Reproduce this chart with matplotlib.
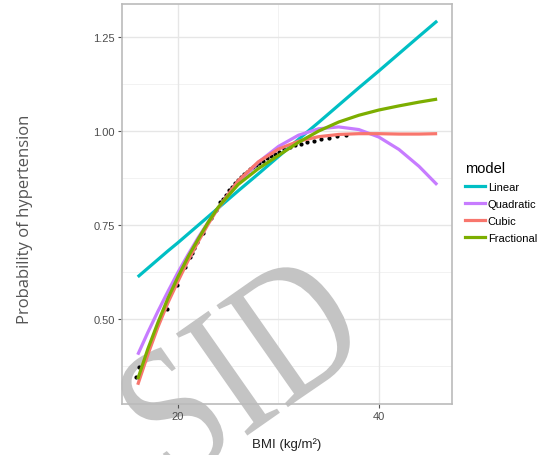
import matplotlib.pyplot as plt
from matplotlib.lines import Line2D
from matplotlib.textpath import TextPath
from matplotlib.patches import PathPatch
from matplotlib.font_manager import FontProperties
from matplotlib.transforms import Affine2D

# BMI grid the fitted curves were read at
bmi = [16, 17, 18, 19, 20, 21, 22, 23, 24, 26, 28, 30, 32, 34, 36, 38, 40, 42, 44, 45.8]

linear = [0.612, 0.635, 0.658, 0.681, 0.703, 0.726, 0.749, 0.772, 0.795, 0.841,
          0.886, 0.932, 0.978, 1.023, 1.069, 1.115, 1.160, 1.206, 1.252, 1.293]
quadratic = [0.405, 0.464, 0.520, 0.573, 0.624, 0.671, 0.716, 0.757, 0.795, 0.862,
             0.917, 0.959, 0.989, 1.006, 1.011, 1.004, 0.984, 0.951, 0.906, 0.857]
cubic = [0.325, 0.405, 0.478, 0.543, 0.600, 0.655, 0.705, 0.752, 0.795, 0.868,
         0.918, 0.952, 0.973, 0.985, 0.991, 0.993, 0.993, 0.992, 0.992, 0.993]
fractional = [0.340, 0.420, 0.490, 0.555, 0.612, 0.665, 0.712, 0.757, 0.797, 0.858,
              0.900, 0.935, 0.970, 1.000, 1.024, 1.042, 1.056, 1.067, 1.077, 1.085]

# observed points
obs_x = [15.8, 16.1, 18.9, 19.9, 20.7, 21.2, 21.4, 21.6, 21.9, 22.5, 23.3, 23.8, 24.2,
         24.5, 24.8, 25.1, 25.4, 25.7, 26.0, 26.3, 26.6, 26.9, 27.2, 27.5, 27.8, 28.1,
         28.5, 28.9, 29.3, 29.7, 30.1, 30.6, 31.2, 31.7, 32.2, 32.8, 33.5, 34.2, 35.0,
         35.8, 36.7]
obs_y = [0.345, 0.372, 0.527, 0.590, 0.638, 0.665, 0.675, 0.688, 0.705, 0.730, 0.770,
         0.790, 0.810, 0.820, 0.830, 0.842, 0.852, 0.862, 0.870, 0.878, 0.885, 0.892,
         0.898, 0.905, 0.910, 0.915, 0.921, 0.928, 0.934, 0.940, 0.945, 0.952, 0.958,
         0.962, 0.966, 0.970, 0.974, 0.978, 0.982, 0.986, 0.990]

models = ["Linear", "Quadratic", "Cubic", "Fractional"]
colors = ["#00BFC4", "#C77CFF", "#F8766D", "#7CAE00"]

x_major = [20, 40]
x_minor = [30]
y_major = [0.50, 0.75, 1.00, 1.25]
y_minor = [0.375, 0.625, 0.875, 1.125]

plt.rcParams['font.family'] = ['Liberation Sans', 'DejaVu Sans']

fig = plt.figure(figsize=(5.47, 4.56), dpi=100)
ax = fig.add_axes([0.223, 0.112, 0.603, 0.877])

# grid drawn by hand so the tick labels can sit above the watermark
for v in x_minor:
    ax.axvline(v, color="#f2f2f2", lw=0.7, zorder=0.4)
for v in y_minor:
    ax.axhline(v, color="#f2f2f2", lw=0.7, zorder=0.4)
for v in x_major:
    ax.axvline(v, color="#e6e6e6", lw=1.0, zorder=0.5)
for v in y_major:
    ax.axhline(v, color="#e6e6e6", lw=1.0, zorder=0.5)

ax.scatter(obs_x, obs_y, s=4, color="black", zorder=2)
for vals, c in zip([linear, quadratic, cubic, fractional], colors):
    ax.plot(bmi, vals, color=c, lw=2.3, solid_capstyle="butt", zorder=3)

ax.set_xlim(14.43, 47.26)
ax.set_ylim(0.274, 1.338)
ax.set_xticks(x_major)
ax.set_yticks(y_major)
ax.set_yticklabels(["0.50", "0.75", "1.00", "1.25"])
ax.tick_params(which="major", length=3, width=0.8, color="#555555",
               labelsize=8, labelcolor="#4d4d4d", pad=2)
for sp in ax.spines.values():
    sp.set_color("#bbbbbb")
    sp.set_linewidth(1.2)

ax.set_xlabel("BMI (kg/m²)", fontsize=9.5, color="#222222", labelpad=12)
fig.text(25 / 547, 1 - 219 / 456, "Probability of hypertension", rotation=90,
         ha="center", va="center", fontsize=12, color="#555555",
         family=["Open Sans", "DejaVu Sans"])

handles = [Line2D([], [], color=c, lw=2.3) for c in colors]
leg = ax.legend(handles, models, title="model", loc="upper left",
                bbox_to_anchor=(465 / 547, 1 - 162 / 456),
                bbox_transform=fig.transFigure, frameon=False, fontsize=8,
                title_fontsize=10.5, handlelength=1.8, handletextpad=0.25,
                labelspacing=0.62, borderpad=0, borderaxespad=0)
leg._legend_box.align = "left"

# watermark: condensed serif "SID", tilted, behind the curves
wm = TextPath((0, 0), "SID", size=1, prop=FontProperties(family="Liberation Serif"))
ext = wm.get_extents()
cx, cy = (ext.x0 + ext.x1) / 2, (ext.y0 + ext.y1) / 2
wm_tr = (Affine2D().translate(-cx, -cy).scale(152, 190).rotate_deg(35)
         .translate(240, 456 - 366))
ax.add_artist(PathPatch(wm, transform=wm_tr, facecolor="#c4c4c4",
                        edgecolor="none", zorder=1.5, clip_on=False))

fig.savefig("out.png", dpi=100)
